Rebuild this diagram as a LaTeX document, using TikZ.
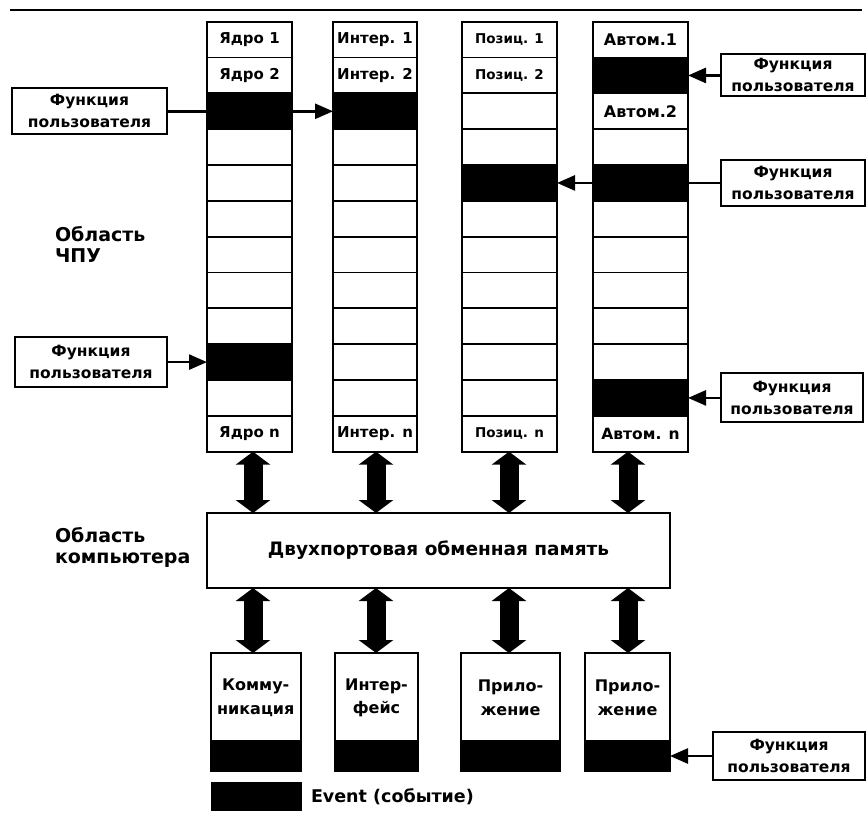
\documentclass[tikz,border=0pt]{standalone}
\usepackage{fontspec}
\setmainfont{DejaVu Sans}
\usetikzlibrary{arrows.meta}
\begin{document}
\begin{tikzpicture}[x=1pt,y=-1pt,
  every node/.style={outer sep=0pt},
  cell/.style={draw, line width=1.8pt, inner sep=0pt, minimum height=35.83pt, anchor=north west},
  clabel/.style={inner sep=0pt, font=\bfseries\fontsize{15}{17}\selectfont},
  fbox/.style={draw, line width=2pt, fill=white, align=center, inner sep=0pt,
    minimum height=46pt, font=\bfseries\fontsize{15.5}{22}\selectfont},
  bbox/.style={draw, line width=1.8pt, inner sep=0pt, anchor=north west, minimum height=118pt},
  evt/.style={draw, fill=black, line width=1.8pt, inner sep=0pt, anchor=south west, minimum height=30pt},
  blabel/.style={inner sep=0pt, align=center, font=\bfseries\fontsize{16}{23.5}\selectfont},
  area/.style={inner sep=0pt, align=left, anchor=west, font=\bfseries\fontsize{19}{21}\selectfont},
  fline/.style={line width=2.6pt},
  farrow/.style={line width=2.6pt, -{Triangle[length=18pt,width=15pt]}},
  bus/.style={line width=19pt, {Triangle[length=13pt,width=34pt]}-{Triangle[length=13pt,width=34pt]}}
]
\useasboundingbox (0,0) rectangle (866,812);

% header rule
\draw[line width=2pt] (10,10) -- (862,10);

% four stacks of twelve cells
\foreach \c/\x/\w in {1/207/85, 2/333/84, 3/462/95, 4/593/95}{
  \foreach \r in {1,...,12}{
    \node[cell, minimum width=\w pt] (c\c-\r) at (\x, {21.7+(\r-1)*35.83}) {};
  }
}
% event cells
\foreach \n in {c1-3, c1-10, c2-3, c3-5, c4-2, c4-5, c4-11}
  \fill[black] (\n.north west) rectangle (\n.south east);

% cell captions
\node[clabel] (t1a) at (c1-1) {Ядро 1};
\node[clabel] (t1b) at (c1-2) {Ядро 2};
\node[clabel] (t1n) at (c1-12) {Ядро n};
\node[clabel] (t2a) at (c2-1) {Интер. 1};
\node[clabel] (t2b) at (c2-2) {Интер. 2};
\node[clabel] (t2n) at (c2-12) {Интер. n};
\node[clabel, font=\bfseries\fontsize{13.5}{15}\selectfont] (t3a) at (c3-1) {Позиц. 1};
\node[clabel, font=\bfseries\fontsize{13.5}{15}\selectfont] (t3b) at (c3-2) {Позиц. 2};
\node[clabel, font=\bfseries\fontsize{13.5}{15}\selectfont] (t3n) at (c3-12) {Позиц. n};
\node[clabel, font=\bfseries\fontsize{16}{18}\selectfont] (t4a) at (c4-1) {Автом.1};
\node[clabel, font=\bfseries\fontsize{16}{18}\selectfont] (t4b) at (c4-3) {Автом.2};
\node[clabel, font=\bfseries\fontsize{15.5}{18}\selectfont] (t4n) at (c4-12) {Автом. n};

% area captions
\node[area] (cnc) at (55,244) {Область\\ЧПУ};
\node[area] (pc) at (55,547) {Область\\компьютера};

% dual-port memory
\node[draw, line width=1.8pt, anchor=north west, minimum width=463pt, minimum height=75pt,
  inner sep=0pt, font=\bfseries\fontsize{18.5}{20}\selectfont] (mem) at (207,513)
  {Двухпортовая обменная память};

% PC-side tasks with their event slots
\foreach \b/\x/\w in {1/210.7/90, 2/335/83, 3/461/99, 4/585/85}{
  \node[bbox, minimum width=\w pt] (b\b) at (\x,653) {};
  \node[evt, minimum width=\w pt] (e\b) at (b\b.south west) {};
}
\node[blabel] (l1) at ([yshift=-45pt]b1.north) {Комму-\\никация};
\node[blabel] (l2) at ([yshift=-45pt]b2.north) {Интер-\\фейс};
\node[blabel] (l3) at ([yshift=-45pt]b3.north) {Прило-\\жение};
\node[blabel] (l4) at ([yshift=-45pt]b4.north) {Прило-\\жение};

% legend
\node[fill=black, inner sep=0pt, anchor=north west, minimum width=91pt, minimum height=29pt] (lg) at (211,782) {};
\node[inner sep=0pt, anchor=west, font=\bfseries\fontsize{17.5}{19}\selectfont] (lgt) at (311,797) {Event (событие)};

% user function boxes, each level with the cell it feeds
\coordinate (fxl1) at (89.5,0);
\coordinate (fxl2) at (91,0);
\coordinate (fxr) at (793,0);
\coordinate (fxr5) at (792,0);
\coordinate (fxr6) at (789,0);
\node[fbox, minimum width=155pt] (f1) at (fxl1 |- c1-3) {Функция\\пользователя};
\node[fbox, minimum width=152pt, minimum height=50pt] (f2) at (fxl2 |- c1-10) {Функция\\пользователя};
\node[fbox, minimum width=144pt, minimum height=42pt] (f3) at (fxr |- c4-2) {Функция\\пользователя};
\node[fbox, minimum width=144pt] (f4) at (fxr |- c4-5) {Функция\\пользователя};
\node[fbox, minimum width=142pt, minimum height=49pt] (f5) at (fxr5 |- c4-11) {Функция\\пользователя};
\node[fbox, minimum width=152pt, minimum height=48pt] (f6) at (fxr6 |- e4) {Функция\\пользователя};

% user function hooks
\draw[fline] (f1.east) -- (c1-3.west);
\draw[farrow] (c1-3.east) -- (c2-3.west);
\draw[farrow] (f2.east) -- (c1-10.west);
\draw[farrow] (f3.west) -- (c4-2.east);
\draw[fline] (f4.west) -- (c4-5.east);
\draw[farrow] (c4-5.west) -- (c3-5.east);
\draw[farrow] (f5.west) -- (c4-11.east);
\draw[farrow] (f6.west) -- (e4.east);

% data exchange buses
\foreach \c/\x in {1/253, 2/376, 3/509, 4/628}{
  \coordinate (ax\c) at (\x,0);
  \draw[bus] (c\c-12.south -| ax\c) -- (mem.north -| ax\c);
  \draw[bus] (mem.south -| ax\c) -- (b\c.north -| ax\c);
}
\end{tikzpicture}
\end{document}
